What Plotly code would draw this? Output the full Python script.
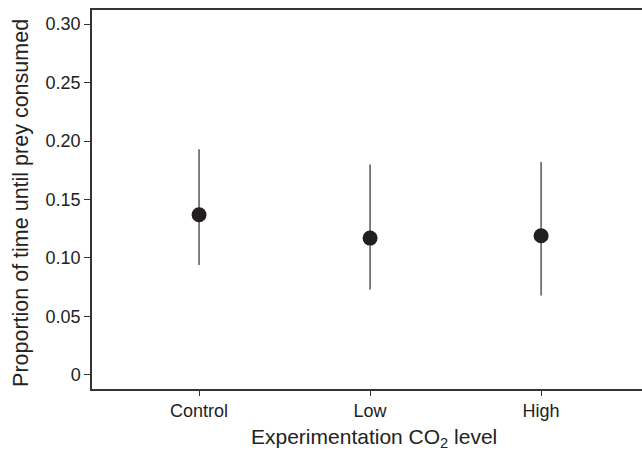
import plotly.graph_objects as go

categories = ["Control", "Low", "High"]
means = [0.137, 0.117, 0.119]
upper = [0.193, 0.180, 0.182]
lower = [0.094, 0.073, 0.068]
y_tickvals = [0, 0.05, 0.10, 0.15, 0.20, 0.25, 0.30]
y_ticktext = ["0", "0.05", "0.10", "0.15", "0.20", "0.25", "0.30"]

err_plus = [u - m for u, m in zip(upper, means)]
err_minus = [m - l for m, l in zip(means, lower)]

FONT = "Liberation Sans, Arial, Helvetica, sans-serif"
TXT = "#222222"
LINE = "#333333"

fig = go.Figure()
fig.add_trace(go.Scatter(
    x=categories, y=means, mode="markers",
    marker=dict(size=15, color="#231f20"),
    error_y=dict(type="data", symmetric=False, array=err_plus, arrayminus=err_minus,
                 thickness=1.4, width=0, color="#4a4a4a"),
    showlegend=False,
))

fig.update_layout(
    width=642, height=452,
    margin=dict(l=92, r=0, t=10, b=63),
    paper_bgcolor="white", plot_bgcolor="white",
    font=dict(family=FONT, color=TXT, size=18),
    xaxis=dict(
        type="category", range=[-0.626, 2.59],
        showline=True, linecolor=LINE, linewidth=1.5, mirror=True,
        ticks="outside", ticklen=5, tickwidth=1, tickcolor=LINE,
        showgrid=False, zeroline=False,
        tickfont=dict(size=18, color=TXT, family=FONT),
    ),
    yaxis=dict(
        range=[-0.012, 0.312],
        tickvals=y_tickvals, ticktext=y_ticktext,
        showline=True, linecolor=LINE, linewidth=1.5,
        ticks="outside", ticklen=6, tickwidth=1, tickcolor=LINE,
        showgrid=False, zeroline=False,
        tickfont=dict(size=18, color=TXT, family=FONT),
    ),
    annotations=[
        dict(text="Experimentation CO<sub>2</sub> level", xref="paper", yref="paper",
             x=0.512, y=-0.128, xanchor="center", yanchor="middle", showarrow=False,
             font=dict(size=21, color=TXT, family=FONT)),
        dict(text="Proportion of time until prey consumed", xref="paper", yref="paper",
             x=-0.129, y=0.491, xanchor="center", yanchor="middle", showarrow=False,
             textangle=-90, font=dict(size=21.5, color=TXT, family=FONT)),
    ],
)

fig.write_html("out.html")
